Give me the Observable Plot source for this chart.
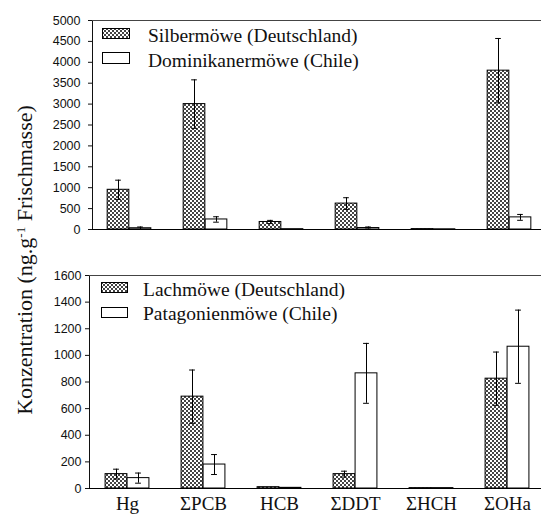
<!DOCTYPE html>
<html><head><meta charset="utf-8">
<script src="https://cdn.jsdelivr.net/npm/d3@7"></script>
<script src="https://cdn.jsdelivr.net/npm/@observablehq/plot@0.6"></script>
<style>
body{margin:0;background:#fff;}
#wrap{position:relative;width:542px;height:515px;background:#fff;}
.panel{position:absolute;left:0;}
.leg{position:absolute;font-family:'Liberation Serif','Times New Roman',serif;font-size:19.5px;color:#111;white-space:nowrap;line-height:1;}
.legbox{position:absolute;}
#ylab{position:absolute;left:25px;top:260px;transform:translate(-50%,-50%) rotate(-90deg);font-family:'Liberation Serif','Times New Roman',serif;font-size:22px;color:#111;white-space:nowrap;line-height:1;}
#ylab sup{font-size:13px;vertical-align:0.55em;line-height:0;}
#bottomPanel g[aria-label^="x-axis"] text{font-family:'Liberation Serif','Times New Roman',serif;font-size:19px;fill:#111;}
</style>
</head><body>
<svg width="0" height="0" style="position:absolute">
  <defs>
    <pattern id="stip" width="4" height="4" patternUnits="userSpaceOnUse">
      <rect width="4" height="4" fill="#fff"/>
      <rect x="0" y="0" width="2" height="2" fill="#444"/>
      <rect x="2" y="2" width="2" height="2" fill="#444"/>
    </pattern>
  </defs>
</svg>
<div id="wrap">
  <div id="ylab">Konzentration (ng.g<sup>-1</sup> Frischmasse)</div>
</div>
<script>
const categories = ["Hg", "ΣPCB", "HCB", "ΣDDT", "ΣHCH", "ΣOHa"];

const topSeries = ["Silbermöwe (Deutschland)", "Dominikanermöwe (Chile)"];
const topGermany = [950, 3000, 180, 620, 10, 3800];
const topGermanyErr = [230, 580, 38, 140, 0, 770];
const topChile = [30, 240, 8, 35, 5, 290];
const topChileErr = [30, 65, 0, 25, 0, 70];
const topTicks = [0, 500, 1000, 1500, 2000, 2500, 3000, 3500, 4000, 4500, 5000];

const bottomSeries = ["Lachmöwe (Deutschland)", "Patagonienmöwe (Chile)"];
const bottomGermany = [108, 690, 10, 108, 3, 825];
const bottomGermanyErr = [37, 200, 0, 22, 0, 200];
const bottomChile = [78, 180, 5, 865, 3, 1065];
const bottomChileErr = [38, 75, 0, 225, 0, 275];
const bottomTicks = [0, 200, 400, 600, 800, 1000, 1200, 1400, 1600];

const wrap = document.getElementById("wrap");

function panel(opts) {
  const {id, top, height, marginTop, marginBottom, marginLeft, xRange, yMax, ticks,
         de, deErr, cl, clErr, series, showX, yPad, legendBoxes, legendText} = opts;
  const half = (xRange[1] - xRange[0]) / categories.length / 2;
  const barW = 22;
  const capW = 6;
  const deRows = categories.map((c, i) => ({cat: c, v: de[i], e: deErr[i]}));
  const clRows = categories.map((c, i) => ({cat: c, v: cl[i], e: clErr[i]}));
  const errMarks = (rows, dx) => {
    const r = rows.filter(d => d.e > 0);
    return [
      Plot.ruleX(r, {x: "cat", y1: d => d.v - d.e, y2: d => d.v + d.e, dx, stroke: "#000", strokeWidth: 1}),
      Plot.tickY(r, {x: "cat", y: d => d.v + d.e, dx, insetLeft: half - capW / 2, insetRight: half - capW / 2, stroke: "#000", strokeWidth: 1}),
      Plot.tickY(r, {x: "cat", y: d => d.v - d.e, dx, insetLeft: half - capW / 2, insetRight: half - capW / 2, stroke: "#000", strokeWidth: 1})
    ];
  };
  const chart = Plot.plot({
    width: 542,
    height,
    marginTop, marginBottom, marginLeft, marginRight: 1,
    style: {fontFamily: "'Liberation Sans', Arial, sans-serif", fontSize: "12.5px", color: "#111", background: "transparent", overflow: "visible"},
    x: {domain: categories, range: xRange, padding: 0, axis: showX ? "bottom" : null, tickSize: 0, tickPadding: 8, label: null},
    y: {domain: [0, yMax], ticks, tickSize: 4, tickPadding: yPad, tickFormat: d => String(d), line: true, label: null},
    marks: [
      Plot.ruleY([yMax], {stroke: "#444", strokeWidth: 1}),
      Plot.barY(deRows, {x: "cat", y: "v", fill: "url(#stip)", stroke: "#000", strokeWidth: 1, insetLeft: half - barW, insetRight: half}),
      Plot.barY(clRows, {x: "cat", y: "v", fill: "#fff", stroke: "#000", strokeWidth: 1, insetLeft: half, insetRight: half - barW}),
      ...errMarks(deRows, -barW / 2),
      ...errMarks(clRows, barW / 2),
      Plot.ruleY([0], {stroke: "#000", strokeWidth: 1})
    ]
  });
  const div = document.createElement("div");
  div.className = "panel";
  div.id = id;
  div.style.top = top + "px";
  div.appendChild(chart);
  wrap.appendChild(div);

  series.forEach((s, i) => {
    const b = legendBoxes[i];
    const box = document.createElementNS("http://www.w3.org/2000/svg", "svg");
    box.setAttribute("class", "legbox");
    box.setAttribute("width", b.w + 1);
    box.setAttribute("height", b.h + 1);
    box.style.left = b.x + "px";
    box.style.top = b.y + "px";
    box.innerHTML = `<rect x="0.5" y="0.5" width="${b.w - 1}" height="${b.h - 1}" fill="${i === 0 ? "url(#stip)" : "#fff"}" stroke="#000" stroke-width="1"/>`;
    wrap.appendChild(box);
    const t = document.createElement("div");
    t.className = "leg";
    t.textContent = s;
    t.style.left = legendText[i].x + "px";
    t.style.top = legendText[i].y + "px";
    wrap.appendChild(t);
  });
}

panel({
  id: "topPanel", top: 0, height: 240, marginTop: 20, marginBottom: 11, marginLeft: 92,
  xRange: [90, 548], yMax: 5000, ticks: topTicks, yPad: 8,
  de: topGermany, deErr: topGermanyErr, cl: topChile, clErr: topChileErr,
  series: topSeries, showX: false,
  legendBoxes: [{x: 102, y: 28, w: 28, h: 11}, {x: 102, y: 52, w: 28, h: 12}],
  legendText: [{x: 148, y: 26}, {x: 148, y: 51}]
});

panel({
  id: "bottomPanel", top: 240, height: 275, marginTop: 35, marginBottom: 27, marginLeft: 89,
  xRange: [88, 545], yMax: 1600, ticks: bottomTicks, yPad: 4,
  de: bottomGermany, deErr: bottomGermanyErr, cl: bottomChile, clErr: bottomChileErr,
  series: bottomSeries, showX: true,
  legendBoxes: [{x: 101, y: 282, w: 27, h: 11}, {x: 101, y: 307, w: 27, h: 11}],
  legendText: [{x: 143, y: 280}, {x: 143, y: 304}]
});
</script>
</body></html>
